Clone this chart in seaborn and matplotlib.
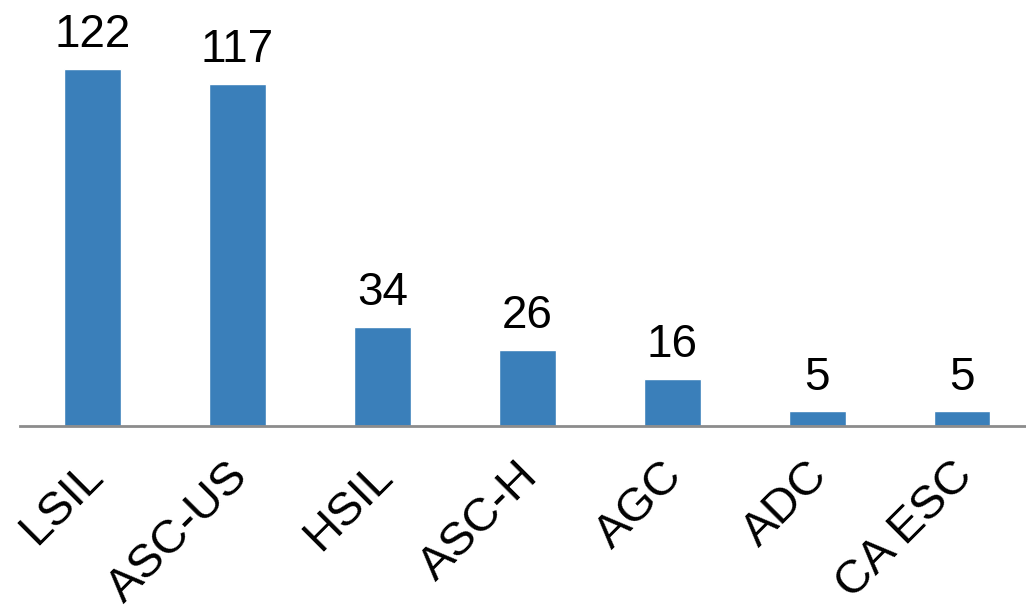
import matplotlib
matplotlib.use('Agg')
import matplotlib.pyplot as plt
import matplotlib.transforms as mtransforms
import seaborn as sns
import pandas as pd

# kategorie a pocty
kategorie = ['LSIL', 'ASC-US', 'HSIL', 'ASC-H', 'AGC', 'ADC', 'CA ESC']
pocty = [122, 117, 34, 26, 16, 5, 5]

data = pd.DataFrame({'Kategorie': kategorie, 'Pocet': pocty})

sns.set_style('white')
plt.rcParams['font.family'] = ['Liberation Sans', 'DejaVu Sans']
plt.rcParams['text.color'] = 'black'
plt.rcParams['xtick.color'] = 'black'

fig = plt.figure(figsize=(10.26, 6.14), dpi=100)
ax = fig.add_axes([20 / 1026, (614 - 426) / 614, (1026 - 20) / 1026, 426 / 614])

sns.barplot(data=data, x='Kategorie', y='Pocet', color='#3A7FBA',
            width=0.39, saturation=1, ax=ax)

# popisky hodnot nad sloupci
for i, v in enumerate(pocty):
    ax.text(i, v + 4, str(v), ha='center', va='bottom', fontsize=33, color='black')

ax.set_xlim(-0.5, 6.44)
ax.set_ylim(0, 145.6)
ax.set_xlabel('')
ax.set_ylabel('')
ax.set_yticks([])
ax.tick_params(axis='x', length=0, pad=20, colors='black')
posun = mtransforms.ScaledTranslation(-12 / 100, 0, fig.dpi_scale_trans)
for lbl in ax.get_xticklabels():
    lbl.set_rotation(45)
    lbl.set_ha('right')
    lbl.set_rotation_mode('anchor')
    lbl.set_fontsize(34)
    lbl.set_transform(lbl.get_transform() + posun)

sns.despine(ax=ax, left=True, top=True, right=True)
ax.spines['bottom'].set_color('#8C8C8C')
ax.spines['bottom'].set_linewidth(2)

fig.savefig('out.png', dpi=100)
